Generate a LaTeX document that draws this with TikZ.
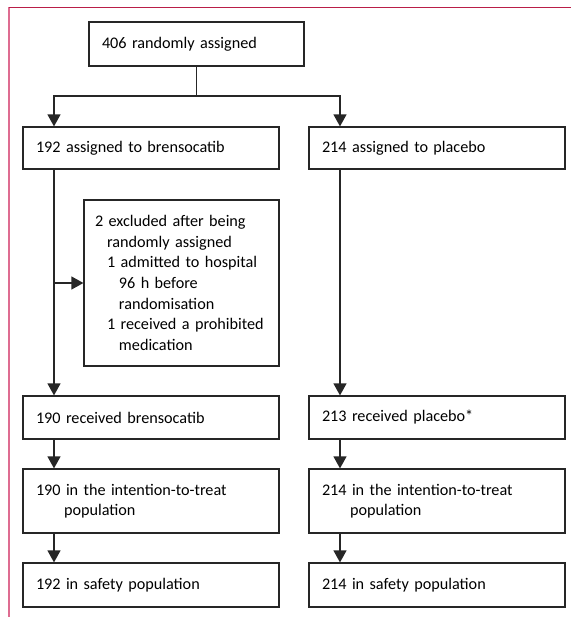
\documentclass[tikz,border=0pt]{standalone}
\usepackage{fontspec}
\setmainfont{Carlito}[WordSpace=0.6]
\usetikzlibrary{arrows.meta}
\definecolor{lancetred}{RGB}{185,30,72}
\definecolor{lancetpink}{RGB}{222,108,145}

\begin{document}
\begin{tikzpicture}[
    x=0.5pt, y=-0.5pt,
    font=\fontsize{8.1}{10.3}\selectfont,
    every node/.style={draw=black!85, line width=0.6pt, rectangle, align=left, inner xsep=6.5pt, inner ysep=0pt},
    widebox/.style={text width=115pt},
    arrow/.style={-{Triangle[width=6.5pt,length=6pt]}, line width=0.6pt, draw=black!85},
    line/.style={line width=0.6pt, draw=black!85}
    ]
    \useasboundingbox (0,0) rectangle (571,617);

    % page rule
    \draw[lancetpink, line width=0.8pt] (9,7) -- (9,617);
    \draw[lancetred, line width=0.5pt] (9,7) -- (571,7);

    \node (random) at (196.5,44) [text width=94.5pt, minimum height=22pt] {406 randomly assigned};

    \node (assignB) at (151,148) [widebox, minimum height=21pt] {192 assigned to brensocatib};
    \node (assignP) at (437,148) [widebox, minimum height=21pt] {214 assigned to placebo};

    \node (excl) at (181.5,283) [text width=86.5pt, inner xsep=5.5pt, minimum height=83pt] {2 excluded after being\\
        \hspace*{6pt}randomly assigned\\
        \hspace*{6pt}1 admitted to hospital\\
        \hspace*{12pt}96 h before\\
        \hspace*{12pt}randomisation\\
        \hspace*{6pt}1 received a prohibited\\
        \hspace*{12pt}medication};

    \node (recvB) at (151,417.5) [widebox, minimum height=21.5pt] {190 received brensocatib};
    \node (recvP) at (437,417.5) [widebox, minimum height=21.5pt] {213 received placebo*};

    \node (ittB) at (151,501) [widebox, minimum height=32pt] {190 in the intention-to-treat\\ \hspace*{14pt}population};
    \node (ittP) at (437,501) [widebox, minimum height=32pt] {214 in the intention-to-treat\\ \hspace*{14pt}population};

    \node (safeB) at (151,585) [widebox, minimum height=22pt] {192 in safety population};
    \node (safeP) at (437,585) [widebox, minimum height=22pt] {214 in safety population};

    % arms
    \coordinate (armB) at (54,96);
    \coordinate (armP) at (340,96);

    \draw[arrow] (random.south) |- (armB) -- (armB |- assignB.north);
    \draw[arrow] (random.south) |- (armP) -- (armP |- assignP.north);

    \draw[arrow] (armB |- assignB.south) -- (armB |- recvB.north);
    \draw[arrow] (armB |- excl.west) -- (excl.west);
    \draw[arrow] (armP |- assignP.south) -- (armP |- recvP.north);

    \draw[arrow] (armB |- recvB.south) -- (armB |- ittB.north);
    \draw[arrow] (armB |- ittB.south) -- (armB |- safeB.north);
    \draw[arrow] (armP |- recvP.south) -- (armP |- ittP.north);
    \draw[arrow] (armP |- ittP.south) -- (armP |- safeP.north);

\end{tikzpicture}
\end{document}
